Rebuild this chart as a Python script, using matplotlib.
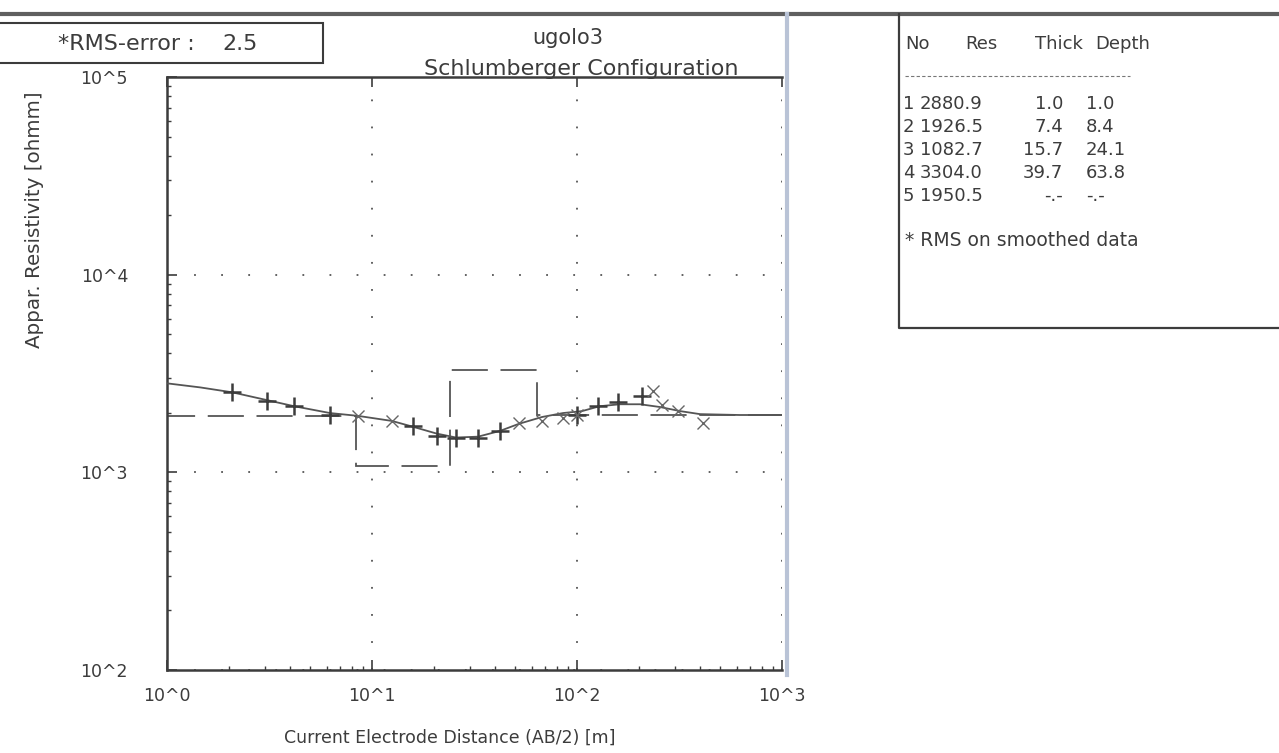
import matplotlib
matplotlib.use("Agg")
import matplotlib.pyplot as plt
import matplotlib.ticker as ticker
from matplotlib.lines import Line2D
from matplotlib.patches import Rectangle

W, H = 1279, 753
INK = "#3c3c3c"
GREY = "#555555"

plt.rcParams["font.family"] = ["DejaVu Sans"]

# field data, AB/2 [m] vs apparent resistivity [ohmm]
ab2_plus = [2.08, 3.07, 4.17, 6.24, 15.85, 20.7, 25.7, 32.9, 42.1, 100.0, 126.6, 158.5, 207.5]
rho_plus = [2540, 2290, 2160, 1950, 1720, 1530, 1495, 1500, 1620, 1960, 2160, 2265, 2420]

ab2_cross = [8.55, 12.5, 52.1, 67.5, 85.5, 100.0, 234.8, 260.0, 311.0, 412.0]
rho_cross = [1930, 1820, 1780, 1820, 1885, 1960, 2570, 2190, 2040, 1780]

# computed model curve
ab2_model = [1.0, 1.45, 2.08, 3.07, 4.17, 6.24, 8.55, 12.5, 15.85, 20.7, 25.7, 32.9,
             42.1, 52.1, 67.5, 85.5, 105.7, 129.0, 162.0, 203.0, 254.0, 319.0, 398.0,
             622.0, 1000.0]
rho_model = [2820, 2690, 2540, 2320, 2160, 1995, 1930, 1820, 1700, 1570, 1500, 1515,
             1620, 1760, 1905, 1995, 2040, 2160, 2210, 2210, 2140, 2040, 1970,
             1950, 1950]

# layered model (table values)
layer_no = [1, 2, 3, 4, 5]
layer_res = [2880.9, 1926.5, 1082.7, 3304.0, 1950.5]
layer_thick = [1.0, 7.4, 15.7, 39.7]
layer_depth = [1.0, 8.4, 24.1, 63.8]

x_ticks = [1, 10, 100, 1000]
x_ticklabels = ["10^0", "10^1", "10^2", "10^3"]
y_ticks = [100, 1000, 10000, 100000]
y_ticklabels = ["10^2", "10^3", "10^4", "10^5"]


def fx(px):
    return px / W


def fy(py):
    return 1 - py / H


fig = plt.figure(figsize=(W / 100, H / 100), dpi=100)
fig.patch.set_facecolor("white")

left, right, top, bottom = 167, 782, 77, 670
ax = fig.add_axes([fx(left), fy(bottom), (right - left) / W, (bottom - top) / H])
ax.set_xscale("log")
ax.set_yscale("log")
ax.set_xlim(1, 1000)
ax.set_ylim(100, 100000)

# layered model as dashed steps
ax.stairs(layer_res, edges=[0.1] + layer_depth + [10000], baseline=None,
          color=GREY, lw=1.3, linestyle=(0, (20, 7)), zorder=2)
ax.plot(ab2_model, rho_model, color=GREY, lw=1.3, zorder=3)
ax.plot(ab2_plus, rho_plus, ls="none", marker="+", ms=13, mew=1.8,
        color=INK, zorder=4)
ax.plot(ab2_cross, rho_cross, ls="none", marker="x", ms=8.5, mew=1.0,
        color="#666666", zorder=4)

ax.xaxis.set_major_locator(ticker.FixedLocator(x_ticks))
ax.xaxis.set_major_formatter(ticker.FixedFormatter(x_ticklabels))
ax.yaxis.set_major_locator(ticker.FixedLocator(y_ticks))
ax.yaxis.set_major_formatter(ticker.FixedFormatter(y_ticklabels))
ax.xaxis.set_minor_locator(ticker.LogLocator(base=10, subs=range(2, 10)))
ax.yaxis.set_minor_locator(ticker.LogLocator(base=10, subs=range(2, 10)))
ax.xaxis.set_minor_formatter(ticker.NullFormatter())
ax.yaxis.set_minor_formatter(ticker.NullFormatter())

ax.tick_params(which="both", direction="in", colors=INK, top=False, right=False)
ax.tick_params(axis="x", which="major", top=True)
ax.tick_params(which="major", length=7, width=1.2)
ax.tick_params(which="minor", length=3, width=1.0)
ax.tick_params(axis="x", which="major", labelsize=12.5, pad=12, labelcolor=INK)
ax.tick_params(axis="y", which="major", labelsize=12.5, pad=28, labelcolor=INK)

ax.grid(which="major", color=GREY, lw=1.3, linestyle=(0, (1, 14)))

for side in ("left", "bottom", "top"):
    ax.spines[side].set_color(INK)
    ax.spines[side].set_linewidth(1.8)
ax.spines["right"].set_visible(False)

ax.set_xlabel("Current Electrode Distance (AB/2) [m]", fontsize=12.5, color=INK)
ax.xaxis.set_label_coords((450 - left) / (right - left), (bottom - 738) / (bottom - top))
ax.xaxis.label.set_va("center")
ax.set_ylabel("Appar. Resistivity [ohmm]", fontsize=14.3, color=INK)
ax.yaxis.set_label_coords((35 - left) / (right - left), (bottom - 220) / (bottom - top))
ax.yaxis.label.set_va("center")

# title
fig.text(fx(568), fy(38), "ugolo3", fontsize=15, color=INK, ha="center", va="center")
fig.text(fx(581), fy(69), "Schlumberger Configuration", fontsize=16, color=INK,
         ha="center", va="center")

# RMS box
fig.add_artist(Rectangle((fx(-5), fy(63)), fx(328), fy(23) - fy(63),
                         transform=fig.transFigure, facecolor="white",
                         edgecolor=INK, lw=1.5, zorder=5))
fig.text(fx(58), fy(44), "*RMS-error :", fontsize=16, color=INK,
         ha="left", va="center", zorder=6)
fig.text(fx(222), fy(44), "2.5", fontsize=16, color=INK,
         ha="left", va="center", zorder=6)

# page frame lines
fig.add_artist(Line2D([0, 1], [fy(14), fy(14)], transform=fig.transFigure,
                      color="#5f5f5f", lw=3, zorder=6))
fig.add_artist(Line2D([fx(787), fx(787)], [fy(14), fy(675)], transform=fig.transFigure,
                      color="#b9c3d6", lw=3, zorder=6))
fig.add_artist(Line2D([fx(899), fx(899), 1], [fy(14), fy(328), fy(328)],
                      transform=fig.transFigure, color=INK, lw=1.6, zorder=6))

# layer table
fig.text(fx(905), fy(44), "No", fontsize=13, color=INK, va="center")
fig.text(fx(965), fy(44), "Res", fontsize=13, color=INK, va="center")
fig.text(fx(1035), fy(44), "Thick", fontsize=13, color=INK, va="center")
fig.text(fx(1095), fy(44), "Depth", fontsize=13, color=INK, va="center")
fig.add_artist(Line2D([fx(905), fx(1130)], [fy(76), fy(76)], transform=fig.transFigure,
                      color="#777777", lw=0.8, dashes=(3, 2)))

row_y = [104, 127, 150, 173, 196]
for i, (n, r) in enumerate(zip(layer_no, layer_res)):
    y = fy(row_y[i])
    th = f"{layer_thick[i]:.1f}" if i < len(layer_thick) else "-.-"
    dp = f"{layer_depth[i]:.1f}" if i < len(layer_depth) else "-.-"
    fig.text(fx(903), y, str(n), fontsize=13, color=INK, va="center")
    fig.text(fx(920), y, f"{r:.1f}", fontsize=13, color=INK, va="center")
    fig.text(fx(1063), y, th, fontsize=13, color=INK, va="center", ha="right")
    fig.text(fx(1086), y, dp, fontsize=13, color=INK, va="center")

fig.text(fx(905), fy(240), "* RMS on smoothed data", fontsize=13.5, color=INK, va="center")

fig.savefig("out.png", dpi=100, facecolor="white")
